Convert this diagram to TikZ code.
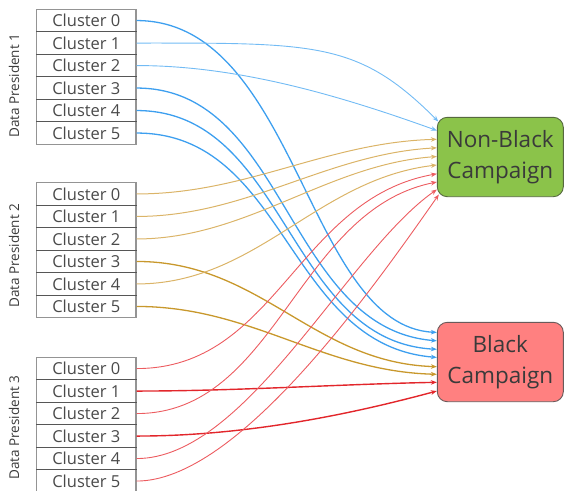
\documentclass[tikz,border=0pt]{standalone}
\usepackage{fontspec}
\setmainfont{Open Sans}
\usetikzlibrary{arrows.meta,calc}
\definecolor{clustertext}{HTML}{4A4A4A}
\definecolor{labeltext}{HTML}{3A3A3A}
\definecolor{nbfill}{HTML}{8BC34A}
\definecolor{nbline}{HTML}{56693F}
\definecolor{bkfill}{HTML}{FF8080}
\definecolor{bkline}{HTML}{6A5A5A}
\definecolor{blueT}{HTML}{3D9FEF}
\definecolor{blueL}{HTML}{72BBF4}
\definecolor{goldT}{HTML}{C8982C}
\definecolor{goldL}{HTML}{DBB468}
\definecolor{redT}{HTML}{E2262B}
\definecolor{redL}{HTML}{EC5C60}
\begin{document}
\begin{tikzpicture}[x=1pt,y=-1pt,
  clusterbox/.style={draw=black,draw opacity=0.42,line width=1.3pt,minimum width=99.3pt,minimum height=22.5pt,inner sep=0pt,text=clustertext,font=\fontsize{16.5}{19}\selectfont},
  grouplabel/.style={rotate=90,inner sep=0pt,text=labeltext,font=\fontsize{13.5}{16}\selectfont},
  campaign/.style={draw,line width=0.9pt,rounded corners=10pt,minimum width=126pt,minimum height=79.4pt,inner sep=0pt,align=center,text=labeltext,font=\fontsize{22.5}{31}\selectfont},
  arr/.style={-{Stealth[length=6pt,width=4.6pt]}},
  bT/.style={arr,draw=blueT,line width=1.3pt},
  bL/.style={arr,draw=blueL,line width=0.9pt},
  gT/.style={arr,draw=goldT,line width=1.3pt},
  gL/.style={arr,draw=goldL,line width=1pt},
  rT/.style={arr,draw=redT,line width=1.4pt},
  rL/.style={arr,draw=redL,line width=0.9pt}]
\useasboundingbox (0,0) rectangle (564,490);

% cluster boxes
\foreach \g/\top in {1/9.3,2/182.7,3/357.3}{
  \foreach \i in {0,...,5}{
    \node[clusterbox] (g\g c\i) at (86.35,{\top+11.25+22.5*\i}) {Cluster \i};
  }
}
\node[grouplabel] (l1) at (14,85.8) {Data President 1};
\node[grouplabel] (l2) at (14,255.8) {Data President 2};
\node[grouplabel] (l3) at (14,427.5) {Data President 3};

% campaigns
\node[campaign,fill=nbfill,draw=nbline] (nb) at (500.3,157) {Non-Black\\Campaign};
\node[campaign,fill=bkfill,draw=bkline] (bk) at (500.3,362) {Black\\Campaign};

% blue edges (president 1)
\draw[bT] (g1c0.east) .. controls +(160,0) and +(-130,-6) .. ($(bk.west)+(0,-29.6)$);
\draw[bL] (g1c1.east) .. controls +(180,0) and +(-80,-80) .. ($(nb.west)+(1.5,-35.5)$);
\draw[bL] (g1c2.east) .. controls +(100,0) and +(-100,-36) .. ($(nb.west)+(0,-26.5)$);
\draw[bT] (g1c3.east) .. controls +(150,0) and +(-150,-12) .. ($(bk.west)+(0,-21.2)$);
\draw[bT] (g1c4.east) .. controls +(150,0) and +(-150,-8) .. ($(bk.west)+(0,-12.7)$);
\draw[bT] (g1c5.east) .. controls +(150,0) and +(-150,-12) .. ($(bk.west)+(0,-4.6)$);

% gold edges (president 2)
\draw[gL] (g2c0.east) .. controls +(110,0) and +(-110,3) .. ($(nb.west)+(0,-17.7)$);
\draw[gL] (g2c1.east) .. controls +(110,0) and +(-110,6) .. ($(nb.west)+(0,-9.2)$);
\draw[gL] (g2c2.east) .. controls +(110,0) and +(-110,8) .. ($(nb.west)+(0,-0.5)$);
\draw[gT] (g2c3.east) .. controls +(124,0) and +(-124,-4) .. ($(bk.west)+(0,4.7)$);
\draw[gL] (g2c4.east) .. controls +(120,0) and +(-120,14) .. ($(nb.west)+(0,8)$);
\draw[gT] (g2c5.east) .. controls +(115,0) and +(-115,-3) .. ($(bk.west)+(0,12.3)$);

% red edges (president 3)
\draw[rL] (g3c0.east) .. controls +(140,0) and +(-140,25) .. ($(nb.west)+(0,16.8)$);
\draw[rT] (g3c1.east) .. controls +(100,0) and +(-100,2) .. ($(bk.west)+(0,20.3)$);
\draw[rL] (g3c2.east) .. controls +(140,0) and +(-140,28) .. ($(nb.west)+(0,25)$);
\draw[rT] (g3c3.east) .. controls +(100,0) and +(-100,27) .. ($(bk.west)+(0,29)$);
\draw[rL] (g3c4.east) .. controls +(110,0) and +(-90,63) .. ($(nb.west)+(0,32.5)$);
\draw[rL] (g3c5.east) .. controls +(100,0) and +(-70,100) .. ($(nb.west)+(2,37.5)$);
\end{tikzpicture}
\end{document}
